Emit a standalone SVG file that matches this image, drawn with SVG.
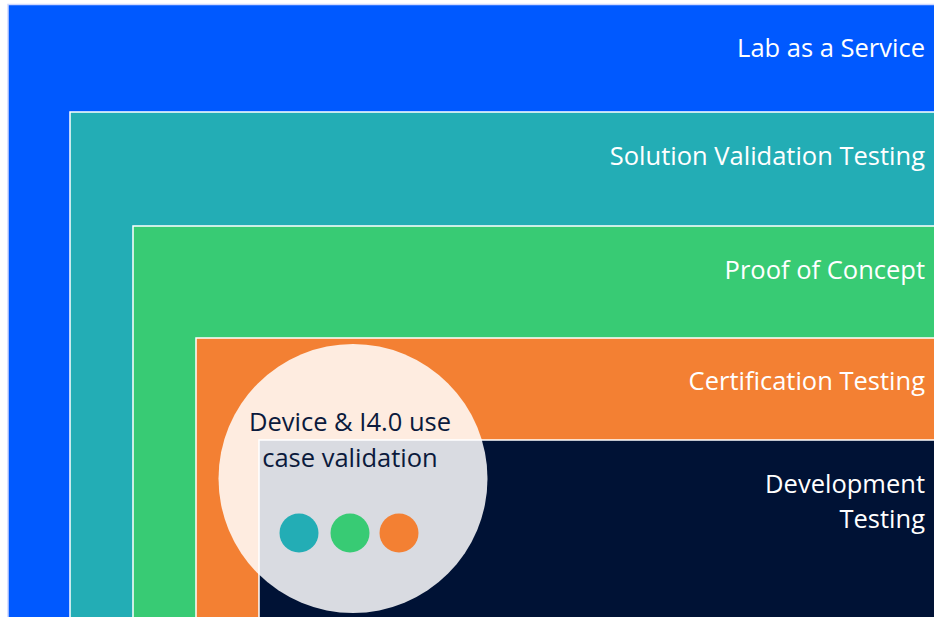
<svg xmlns="http://www.w3.org/2000/svg" width="934" height="617" viewBox="0 0 934 617">
<style>
.layer{stroke:#ffffff;stroke-width:1.5}
.lbl{font-family:"Open Sans","Noto Sans",sans-serif;font-size:25.5px;fill:#ffffff;text-anchor:end}
.ctext{font-family:"Open Sans","Noto Sans",sans-serif;font-size:25.5px;fill:#0B1A3C;text-anchor:middle}
</style>
<rect width="934" height="617" fill="#ffffff"/>
<g id="lab-as-a-service">
<rect class="layer" x="8" y="4.5" width="940" height="620" fill="#0059FF" style="stroke:#cfd8ff"/>
<text class="lbl" x="925" y="57">Lab as a Service</text>
</g>
<g id="solution-validation-testing">
<rect class="layer" x="70" y="112" width="880" height="520" fill="#23ADB5"/>
<text class="lbl" x="925" y="165">Solution Validation Testing</text>
</g>
<g id="proof-of-concept">
<rect class="layer" x="133" y="226" width="820" height="420" fill="#38CB74"/>
<text class="lbl" x="925" y="279">Proof of Concept</text>
</g>
<g id="certification-testing">
<rect class="layer" x="196" y="338" width="760" height="300" fill="#F38033"/>
<text class="lbl" x="925" y="390">Certification Testing</text>
</g>
<g id="development-testing">
<rect class="layer" x="259" y="440" width="700" height="200" fill="#001235"/>
<text class="lbl" x="925" y="493">Development</text>
<text class="lbl" x="925" y="528">Testing</text>
</g>
<g id="use-case-validation">
<circle cx="353" cy="478.5" r="134.5" fill="#ffffff" fill-opacity="0.85"/>
<text class="ctext" x="350" y="431">Device &amp; I4.0 use</text>
<text class="ctext" x="350" y="467">case validation</text>
<circle cx="299" cy="533" r="19.5" fill="#23ADB5"/>
<circle cx="350" cy="533" r="19.5" fill="#38CB74"/>
<circle cx="399" cy="533" r="19.5" fill="#F38033"/>
</g>
<g id="connectors"></g>
</svg>
